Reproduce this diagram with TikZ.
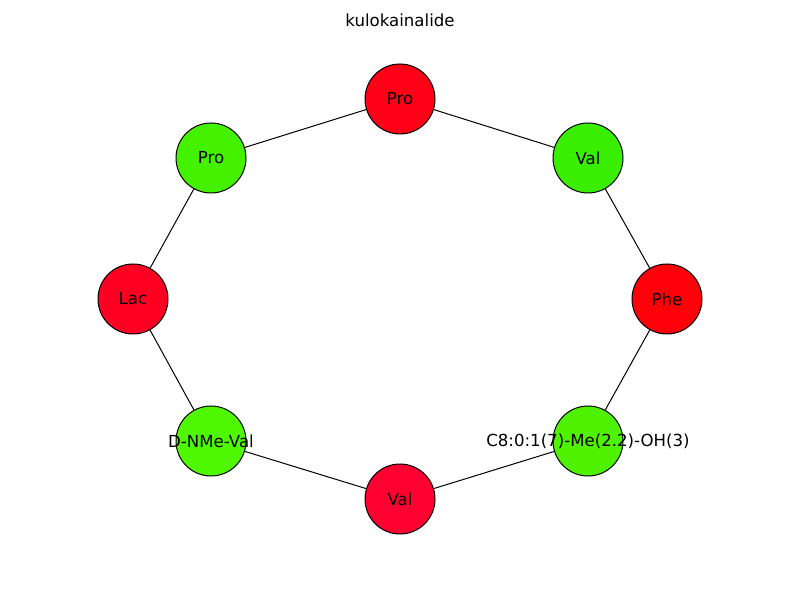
\documentclass[tikz,border=0pt]{standalone}
\usepackage{fontspec}
\setmainfont{DejaVu Sans}
\begin{document}
\begin{tikzpicture}[x=1pt,y=1pt,
  lbl/.style={font=\fontsize{16.6}{19}\selectfont},
  res/.style={circle,draw=black,line width=1pt,minimum size=70pt,inner sep=0pt,lbl},
  link/.style={draw=black,line width=1pt}]
\useasboundingbox (0,0) rectangle (800,600);
\definecolor{r1}{HTML}{FF0016}
\definecolor{r2}{HTML}{FF0008}
\definecolor{r3}{HTML}{FF0030}
\definecolor{r4}{HTML}{FF0022}
\definecolor{g1}{HTML}{3AEE00}
\definecolor{g2}{HTML}{4FF200}
\definecolor{g3}{HTML}{4FF800}
\definecolor{g4}{HTML}{44F200}
\node[lbl] (title) at (400,580) {kulokainalide};
\node[res,fill=r1] (n1) at (400,501) {Pro};
\node[res,fill=g1] (n2) at (588,442) {Val};
\node[res,fill=r2] (n3) at (667,301) {Phe};
\node[res,fill=g2] (n4) at (588,159) {};
\node[res,fill=r3] (n5) at (400,101) {Val};
\node[res,fill=g3] (n6) at (211,159) {};
\node[res,fill=r4] (n7) at (133,301) {Lac};
\node[res,fill=g4] (n8) at (211,442) {Pro};
\draw[link] (n1) -- (n2);
\draw[link] (n2) -- (n3);
\draw[link] (n3) -- (n4);
\draw[link] (n4) -- (n5);
\draw[link] (n5) -- (n6);
\draw[link] (n6) -- (n7);
\draw[link] (n7) -- (n8);
\draw[link] (n8) -- (n1);
\node[lbl] (l4) at (n4.center) {C8:0:1(7)-Me(2.2)-OH(3)};
\node[lbl] (l6) at (n6.center) {D-NMe-Val};
\end{tikzpicture}
\end{document}
